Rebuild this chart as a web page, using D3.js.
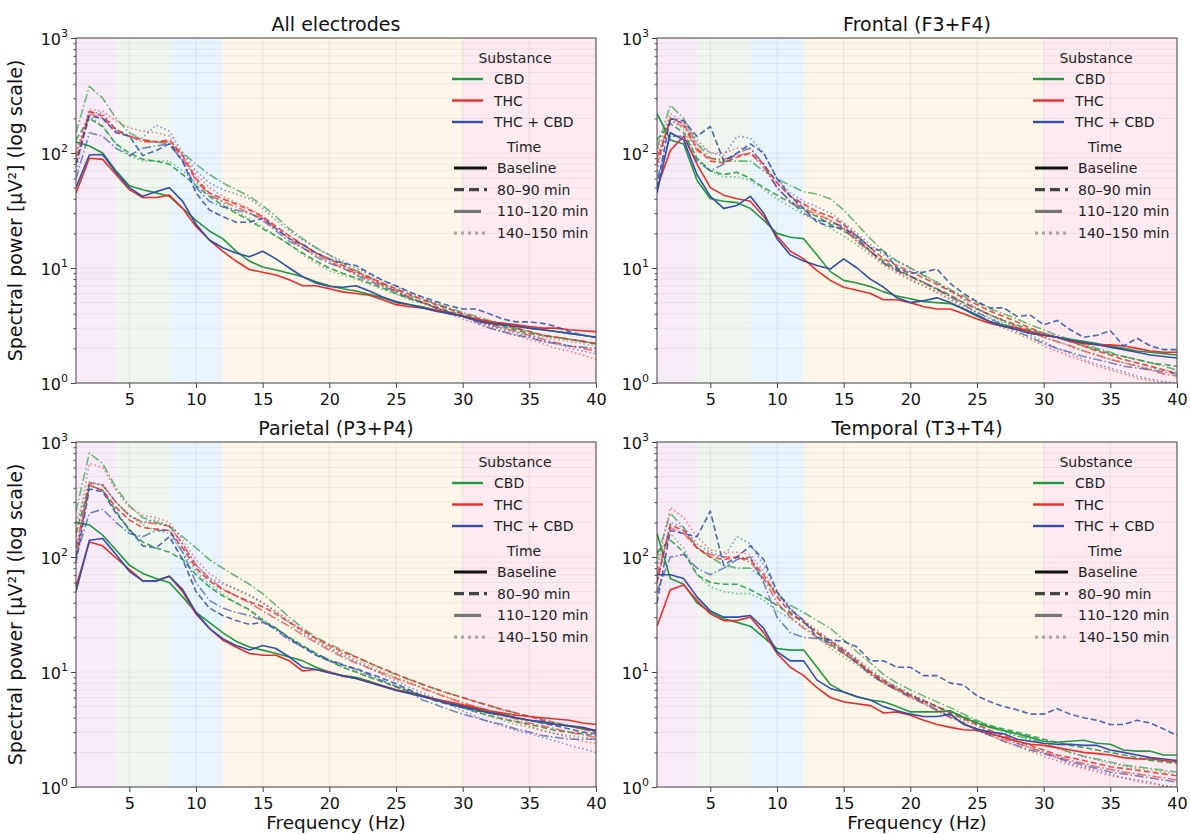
<!DOCTYPE html>
<html>
<head>
<meta charset="utf-8">
<script src="https://cdn.jsdelivr.net/npm/d3@7"></script>
<style>
  body { margin: 0; background: #fff; }
  svg { font-family: "DejaVu Sans", sans-serif; }
</style>
</head>
<body>
<div id="chart"></div>
<script>
// Frequencies (Hz) and category labels
const freqs = d3.range(1, 41);
const substances = ["CBD", "THC", "THC + CBD"];
const times = ["Baseline", "80–90 min", "110–120 min", "140–150 min"];
const xTicks = [5, 10, 15, 20, 25, 30, 35, 40];
const bandEdges = [[1, 4], [4, 8], [8, 12], [12, 30], [30, 40]];

// Each array: [Baseline, 80–90, 110–120, 140–150], values per Hz 1..40 (µV²)
const ALL_CBD = [
  [125,115,100,70,52,48,45,42,33,26,21,18,14,11.5,10.2,9.6,9,8.4,7.6,7,6.6,6.3,5.9,5.5,5.0,4.8,4.6,4.3,4.0,3.8,3.6,3.4,3.3,3.2,3.0,2.9,2.8,2.7,2.6,2.5],
  [130,200,170,120,100,88,85,80,65,52,42,35,30,26,22,19,16,13.5,11.5,10,9,8.2,7.4,6.7,6.0,5.4,5.0,4.6,4.2,3.9,3.6,3.3,3.1,2.9,2.7,2.6,2.5,2.4,2.3,2.2],
  [150,380,300,200,150,130,125,120,100,80,65,55,48,42,35,28,22,18,15,13,11,9.5,8.3,7.3,6.5,5.8,5.3,4.9,4.5,4.1,3.8,3.5,3.2,3.0,2.8,2.6,2.5,2.4,2.3,2.2],
  [100,210,170,120,95,85,85,85,70,55,45,37,31,27,23,19,16,13,11,9.5,8.7,8,7.2,6.5,5.9,5.3,4.9,4.5,4.1,3.8,3.5,3.2,3.0,2.8,2.6,2.5,2.4,2.3,2.2,2.1]
];
const ALL_THC = [
  [45,90,88,65,48,41,41,43,33,23,17.5,14,11.5,9.7,9.2,8.7,7.9,7.0,7.0,6.6,6.2,6.0,5.8,5.3,4.8,4.6,4.5,4.3,4.1,3.8,3.6,3.4,3.3,3.2,3.1,3.0,3.0,2.9,2.85,2.8],
  [80,230,210,160,140,130,125,130,95,60,45,40,36,32,28,23,19,16,13.5,12,10.5,9.3,8.3,7.4,6.6,5.9,5.3,4.8,4.4,4.0,3.7,3.4,3.2,3.0,2.8,2.6,2.5,2.4,2.3,2.2],
  [90,220,200,155,140,125,125,125,90,58,43,38,34,30,27,22,18,15,13,11.5,10,9,8,7.1,6.3,5.6,5.0,4.5,4.1,3.8,3.5,3.2,3.0,2.8,2.6,2.4,2.25,2.1,2.0,1.9],
  [100,240,230,190,165,155,150,140,95,65,50,42,37,33,28,23,19,16,13.5,12,10.5,9.2,8.1,7.1,6.3,5.6,5.0,4.5,4.0,3.6,3.3,3.0,2.8,2.6,2.4,2.2,2.0,1.9,1.75,1.6]
];
const ALL_COMBO = [
  [50,96,97,68,50,42,46,50,38,24,17.5,15,13.5,12.5,14,12,10,8.4,7.4,6.9,6.8,7.0,6.3,5.6,5.1,4.8,4.5,4.2,4.0,3.8,3.5,3.3,3.2,3.1,3.0,2.9,2.8,2.7,2.6,2.5],
  [80,210,200,150,140,95,105,120,85,45,32,28,25,25,27,22,18,16,13.5,12,11,10.5,9,7.8,7,6.2,5.6,5.1,4.7,4.4,4.4,4.0,3.6,3.4,3.4,3.3,3.1,2.8,2.6,2.5],
  [60,150,140,110,95,110,115,120,85,50,38,34,32,30,26,21,17,15,12.5,11,10,8.7,7.7,6.9,6.2,5.5,5.0,4.5,4.1,3.8,3.4,3.0,2.8,2.6,2.5,2.3,2.2,2.1,2.05,2.0],
  [70,230,220,160,140,135,175,155,100,70,55,48,44,40,33,26,21,17.5,15,13,11.5,10,8.8,7.8,6.9,6.1,5.5,4.9,4.4,3.9,3.5,3.1,2.9,2.7,2.5,2.3,2.2,2.0,1.9,1.8]
];

const FR_CBD = [
  [220,130,120,58,40,38,37,33,26,20,18.5,18,13,9.3,7.8,7.4,6.9,6.2,5.7,5.4,5.1,5.0,4.9,4.4,3.8,3.4,3.2,3.0,2.8,2.6,2.5,2.4,2.3,2.2,2.1,2.0,1.9,1.85,1.8,1.75],
  [130,180,150,90,70,65,68,60,50,43,37,32,28,24,21,18,14,11.5,9.8,8.5,7.5,6.6,5.8,5.0,4.4,3.9,3.5,3.2,2.9,2.7,2.5,2.3,2.1,1.95,1.8,1.7,1.6,1.5,1.45,1.4],
  [110,260,200,120,90,85,85,85,70,60,52,46,44,40,32,24,18,14,11.5,10,8.6,7.5,6.5,5.7,5.0,4.4,4.0,3.6,3.2,2.9,2.6,2.4,2.2,2.0,1.85,1.7,1.6,1.5,1.4,1.3],
  [90,200,160,90,70,62,62,58,48,40,34,29,26,22,19,16,13,10.5,9,7.8,7,6.2,5.4,4.7,4.1,3.7,3.3,3.0,2.7,2.5,2.3,2.1,1.9,1.75,1.6,1.5,1.42,1.35,1.3,1.25]
];
const FR_THC = [
  [50,105,140,80,50,43,40,38,28,19,14,12,9.5,7.8,6.8,6.4,6.0,5.3,5.3,5.0,4.6,4.4,4.4,4.0,3.6,3.3,3.1,3.0,2.8,2.6,2.5,2.3,2.2,2.15,2.15,2.1,2.0,1.9,1.85,1.85],
  [80,200,180,110,85,82,92,100,80,55,42,36,31,28,24,19,15,12,10.5,9.3,8.2,7.2,6.3,5.5,4.8,4.2,3.8,3.4,3.0,2.7,2.5,2.3,2.1,1.9,1.75,1.6,1.5,1.4,1.3,1.2],
  [90,190,170,105,90,88,95,100,75,50,38,33,29,26,22,17,14,11,9.5,8.4,7.4,6.5,5.7,5.0,4.4,3.9,3.5,3.1,2.8,2.5,2.3,2.1,1.9,1.75,1.6,1.5,1.4,1.3,1.2,1.15],
  [100,220,190,130,100,100,110,110,80,55,42,35,30,26,22,17,13.5,11,9.3,8,7,6.1,5.3,4.5,3.9,3.4,3.0,2.7,2.4,2.1,1.9,1.7,1.55,1.4,1.3,1.2,1.1,1.05,1.0,0.98]
];
const FR_COMBO = [
  [45,150,130,65,42,33,35,42,30,18,13,11.5,10.5,9.8,12,10,8,6.8,5.5,5.0,5.2,5.5,5.0,4.4,3.9,3.4,3.1,2.9,2.7,2.6,2.5,2.35,2.25,2.15,2.05,1.95,1.85,1.75,1.7,1.65],
  [50,200,190,140,170,85,100,120,100,60,42,33,25,23,22,19,15,14,10,9,9.2,9.8,7.3,6,5.1,4.5,4.5,3.8,3.9,3.2,3.5,2.9,2.5,2.6,2.85,2.1,2.45,2.1,1.95,1.95],
  [60,140,140,85,70,80,100,110,80,50,38,30,26,25,23,18,14,11,9.5,8.5,7.5,6.5,5.6,4.8,4.1,3.6,3.2,2.8,2.5,2.2,2.0,1.85,1.7,1.6,1.5,1.4,1.35,1.3,1.25,1.2],
  [70,200,180,120,100,95,140,135,100,60,45,38,34,30,25,20,16,13,11.5,10,8.8,7.5,6.3,5.3,4.5,3.9,3.4,3.0,2.6,2.3,2.0,1.8,1.6,1.45,1.35,1.25,1.15,1.08,1.03,1.0]
];

const PA_CBD = [
  [200,190,155,115,85,72,65,60,45,33,27,22,18.5,16.5,15.5,14.5,13.5,12.5,11,10,9.3,9,8.3,7.6,7,6.6,6.2,5.8,5.4,5.1,4.8,4.5,4.3,4.0,3.8,3.6,3.5,3.4,3.2,3.1],
  [160,420,380,250,170,135,120,110,95,70,55,46,40,35,28,24,20,17,14.5,12.5,11,10,9,8.2,7.4,6.8,6.2,5.7,5.3,4.9,4.5,4.2,3.9,3.7,3.5,3.3,3.1,3.0,2.9,2.8],
  [250,800,650,400,280,220,200,185,150,120,95,80,68,58,48,38,30,24,20,17.5,15.5,13.5,12,10.6,9.5,8.6,7.8,7.1,6.5,6.0,5.5,5.1,4.7,4.4,4.1,3.9,3.6,3.4,3.2,3.0],
  [200,450,420,300,230,190,170,160,110,75,58,48,40,34,29,24,20,16.5,14,12.5,11,10,9.1,8.3,7.6,6.9,6.3,5.8,5.3,4.9,4.5,4.1,3.8,3.5,3.3,3.1,2.9,2.8,2.7,2.6]
];
const PA_THC = [
  [55,135,125,98,78,62,62,68,50,32,24,19,16.5,14.5,14,14,12.5,10.2,10.5,10,9.2,8.8,8.2,7.6,7,6.6,6.2,5.8,5.5,5.2,4.9,4.6,4.4,4.2,4.1,4.0,3.9,3.8,3.6,3.5],
  [100,420,380,270,210,180,175,170,120,80,62,52,46,41,37,32,27,23,19.5,17,15,13.5,12,10.7,9.6,8.6,7.8,7.1,6.5,6,5.5,5.1,4.7,4.4,4.1,3.8,3.6,3.4,3.2,3.0],
  [120,440,420,300,230,200,195,185,130,85,65,53,46,40,34,29,25,21,18,15.5,13.5,12,10.8,9.7,8.8,8.0,7.2,6.5,5.9,5.4,5.0,4.6,4.2,3.9,3.6,3.4,3.2,3.0,2.85,2.7],
  [150,650,600,380,270,230,220,200,140,95,72,60,52,46,40,34,28,23,19.5,16.5,14.5,12.8,11.3,10,9,8.1,7.3,6.6,6.0,5.4,4.9,4.4,4.0,3.7,3.4,3.1,2.9,2.7,2.5,2.4]
];
const PA_COMBO = [
  [50,140,145,105,75,62,62,68,52,33,24,19.5,17,15.5,17,16,13.5,11,10.5,9.8,9.3,8.8,8.1,7.5,6.9,6.5,6.1,5.7,5.3,5.0,4.7,4.4,4.2,4.0,3.8,3.7,3.5,3.4,3.3,3.1],
  [90,390,370,240,175,125,120,150,95,50,36,31,28,26,27,24,19.5,16.5,14,12.5,11.5,10.7,9.7,8.8,7.9,7.0,6.2,5.6,5.2,4.9,4.6,4.4,4.2,4.0,3.8,3.6,3.4,3.2,3.0,2.9],
  [100,240,260,200,160,150,170,170,110,60,42,36,33,31,28,23,19,16.5,14.5,12.8,11.6,10.5,9.4,8.4,7.5,6.7,5.7,5.2,4.7,4.3,4.0,3.7,3.5,3.2,3.0,2.8,2.7,2.6,2.6,2.6],
  [110,440,430,300,230,200,210,185,130,85,66,58,53,47,40,33,27,22,18.5,16,14,12.3,10.8,9.5,8.4,7.4,6.6,5.9,5.2,4.6,4.1,3.7,3.4,3.1,2.9,2.7,2.5,2.3,2.15,2.0]
];

const TE_CBD = [
  [160,65,58,40,33,29,27,25,20,16,15.5,15.5,11,7.8,6.7,6.1,5.7,5.5,5.0,4.5,4.5,4.5,4.6,4.0,3.6,3.3,3.1,2.9,2.7,2.5,2.45,2.5,2.55,2.4,2.35,2.1,2.05,2.05,1.9,1.9],
  [110,140,110,70,60,58,58,52,45,38,32,27,22,17.5,14.5,12,10,8.5,7.2,6.3,5.6,5.0,4.5,4.1,3.7,3.4,3.2,3.0,2.8,2.6,2.45,2.3,2.2,2.1,2.0,1.9,1.8,1.7,1.65,1.6],
  [100,240,180,120,100,85,80,80,65,48,38,33,28,24,19,15,12,9.5,8,7,6.2,5.5,4.9,4.3,3.8,3.4,3.1,2.8,2.6,2.4,2.2,2.0,1.85,1.75,1.65,1.55,1.5,1.45,1.4,1.35],
  [90,160,120,70,55,50,48,48,42,34,29,25,20,16,13.5,11.5,9.5,8,7,6.2,5.6,5.0,4.5,4.0,3.6,3.3,3.0,2.75,2.55,2.35,2.15,2.0,1.85,1.72,1.6,1.52,1.45,1.4,1.35,1.3]
];
const TE_THC = [
  [25,52,57,42,32,28,28,30,22,14.5,11,9.3,7.3,6.0,5.5,5.3,5.1,4.4,4.5,4.2,3.8,3.5,3.3,3.15,3.1,2.9,2.7,2.5,2.35,2.3,2.2,2.1,2.0,1.95,1.9,1.8,1.75,1.75,1.7,1.65],
  [60,190,170,120,100,95,100,95,70,45,33,27,22,18.5,15.5,12.5,10,8.3,7.2,6.3,5.6,5.0,4.4,3.9,3.5,3.1,2.8,2.5,2.3,2.1,1.9,1.8,1.7,1.6,1.5,1.45,1.4,1.35,1.3,1.25],
  [70,180,160,120,105,100,100,90,65,40,30,24,20,17,14.5,12,9.8,8,6.9,6.0,5.3,4.6,4.0,3.6,3.2,2.9,2.6,2.4,2.2,2.0,1.85,1.7,1.6,1.5,1.42,1.35,1.3,1.25,1.2,1.15],
  [80,270,220,150,115,110,110,105,75,48,35,28,22,18.5,15.5,12.5,10,8.3,7.2,6.2,5.4,4.7,4.1,3.6,3.2,2.8,2.5,2.25,2.05,1.85,1.7,1.55,1.45,1.35,1.25,1.2,1.12,1.07,1.02,0.98]
];
const TE_COMBO = [
  [70,70,65,45,34,30,30,31,24,15,12.5,12.5,8.5,7.2,6.7,6.1,5.7,5.0,4.6,4.3,4.1,4.1,4.3,3.5,3.2,3.0,2.9,2.6,2.5,2.4,2.35,2.35,2.3,2.3,2.1,2.0,1.9,1.8,1.75,1.7],
  [40,170,160,150,250,85,100,125,95,50,35,28,20,19,18.5,16.5,12.5,12.5,11,11,9.3,9.3,8.0,7.7,6.2,5.5,5.0,4.7,4.3,4.3,4.8,4.3,4.0,3.8,3.5,3.5,3.8,3.6,3.2,2.8],
  [50,100,105,80,70,80,95,100,60,30,22,20,19.5,18,15,12,9.5,8,7,6.1,5.4,4.7,4.1,3.6,3.1,2.8,2.5,2.3,2.1,1.95,1.8,1.65,1.55,1.45,1.35,1.3,1.25,1.2,1.15,1.1],
  [60,200,180,130,110,100,150,130,85,50,36,28,23,19,16,13,10.5,8.7,7.5,6.5,5.7,5.0,4.3,3.8,3.4,3.0,2.7,2.4,2.2,2.0,1.8,1.6,1.5,1.4,1.3,1.2,1.15,1.1,1.03,1.0]
];

const panels = [
  { title: "All electrodes",   data: [ALL_CBD, ALL_THC, ALL_COMBO], l: 76,  t: 38,  ylab: true,  xlab: false },
  { title: "Frontal (F3+F4)",  data: [FR_CBD, FR_THC, FR_COMBO],    l: 657, t: 38,  ylab: false, xlab: false },
  { title: "Parietal (P3+P4)", data: [PA_CBD, PA_THC, PA_COMBO],    l: 76,  t: 442, ylab: true,  xlab: true },
  { title: "Temporal (T3+T4)", data: [TE_CBD, TE_THC, TE_COMBO],    l: 657, t: 442, ylab: false, xlab: true }
];

// Styles
const subColors = ["#1f9a3f", "#ee2b2b", "#2f4fa8"];
const bandColors = ["#f6ebf6", "#eef6ee", "#eaf4fc", "#fdf6e9", "#fdebf1"];
const timeStyles = [
  { dash: null,             opacity: 1 },
  { dash: "6,3",            opacity: 0.85 },
  { dash: "9,2.5,1.6,2.5",  opacity: 0.65 },
  { dash: "1.6,2.6",        opacity: 0.55 }
];
const legendTime = [
  { color: "#111", dash: null,  w: 3.2, len: 33 },
  { color: "#444", dash: "10,5", w: 3.2, len: 33 },
  { color: "#777", dash: null,  w: 3.2, len: 27 },
  { color: "#aaa", dash: "3,4", w: 3.2, len: 33 }
];

const W = 1190, H = 834, pw = 520, ph = 345;
const axisColor = "#444";

const svg = d3.select("#chart").append("svg")
  .attr("width", W).attr("height", H);

const x = d3.scaleLinear().domain([1, 40]).range([0, pw]);
const y = d3.scaleLog().domain([1, 1000]).range([ph, 0]);

const majorY = [1, 10, 100, 1000];
const minorY = [];
[1, 10, 100].forEach(d => { for (let k = 2; k < 10; k++) minorY.push(d * k); });

const line = d3.line().x((d, i) => x(freqs[i])).y(d => y(d));

panels.forEach((p, pi) => {
  const g = svg.append("g").attr("transform", `translate(${p.l},${p.t})`);

  // Frequency bands
  g.selectAll(".band").data(bandEdges).enter().append("rect")
    .attr("x", d => x(d[0])).attr("width", d => x(d[1]) - x(d[0]))
    .attr("y", 0).attr("height", ph)
    .attr("fill", (d, i) => bandColors[i]);

  // Grid
  g.selectAll(".hgrid").data(minorY.concat(majorY)).enter().append("line")
    .attr("x1", 0).attr("x2", pw)
    .attr("y1", d => y(d)).attr("y2", d => y(d))
    .attr("stroke", "#000").attr("stroke-opacity", 0.07).attr("stroke-width", 0.8);
  g.selectAll(".vgrid").data(xTicks).enter().append("line")
    .attr("x1", d => x(d)).attr("x2", d => x(d))
    .attr("y1", 0).attr("y2", ph)
    .attr("stroke", "#000").attr("stroke-opacity", 0.09).attr("stroke-width", 0.8);

  // Series
  const clipId = "clip" + pi;
  g.append("clipPath").attr("id", clipId).append("rect")
    .attr("width", pw).attr("height", ph);
  const lines = g.append("g").attr("clip-path", `url(#${clipId})`);
  p.data.forEach((sub, si) => {
    sub.forEach((vals, ti) => {
      lines.append("path")
        .attr("d", line(vals))
        .attr("fill", "none")
        .attr("stroke", subColors[si])
        .attr("stroke-width", 1.6)
        .attr("stroke-opacity", timeStyles[ti].opacity)
        .attr("stroke-dasharray", timeStyles[ti].dash)
        .attr("stroke-linejoin", "round");
    });
  });

  // X axis
  const xa = g.append("g").attr("transform", `translate(0,${ph})`)
    .call(d3.axisBottom(x).tickValues(xTicks).tickSize(5).tickPadding(5.5).tickSizeOuter(0));
  xa.select(".domain").remove();
  xa.selectAll("line").attr("stroke", axisColor);
  xa.selectAll("text").attr("font-size", 16).attr("fill", "#111")
    .attr("font-family", "DejaVu Sans");

  // Y axis (major + minor)
  const ya = g.append("g")
    .call(d3.axisLeft(y).tickValues(majorY).tickSize(5).tickFormat(() => "").tickSizeOuter(0));
  ya.select(".domain").remove();
  ya.selectAll("line").attr("stroke", axisColor);
  const ym = g.append("g")
    .call(d3.axisLeft(y).tickValues(minorY).tickSize(2.5).tickFormat(() => "").tickSizeOuter(0));
  ym.select(".domain").remove();
  ym.selectAll("line").attr("stroke", axisColor);

  majorY.forEach(v => {
    const t = g.append("text")
      .attr("x", -8).attr("y", y(v) + 7)
      .attr("text-anchor", "end").attr("font-size", 16).attr("fill", "#111");
    t.append("tspan").text("10");
    t.append("tspan").attr("font-size", 11).attr("dy", -8).text(Math.round(Math.log10(v)));
  });

  // Frame
  g.append("rect").attr("width", pw).attr("height", ph)
    .attr("fill", "none").attr("stroke", axisColor).attr("stroke-width", 1);

  // Title and labels
  g.append("text").attr("x", pw / 2).attr("y", -7)
    .attr("text-anchor", "middle").attr("font-size", 19).attr("fill", "#111")
    .text(p.title);
  if (p.ylab) {
    g.append("text")
      .attr("transform", `translate(-54,${ph / 2}) rotate(-90)`)
      .attr("text-anchor", "middle").attr("font-size", 19).attr("fill", "#111")
      .text("Spectral power [µV²] (log scale)");
  }
  if (p.xlab) {
    g.append("text").attr("x", pw / 2).attr("y", ph + 42)
      .attr("text-anchor", "middle").attr("font-size", 18.5).attr("fill", "#111")
      .text("Frequency (Hz)");
  }

  // Legend
  const lg = g.append("g").attr("transform", `translate(${pw},0)`);
  lg.append("text").attr("x", -81).attr("y", 25).attr("text-anchor", "middle")
    .attr("font-size", 14).attr("fill", "#222").text("Substance");
  substances.forEach((s, i) => {
    const yy = 41 + i * 21.5;
    lg.append("line").attr("x1", -144).attr("x2", -113).attr("y1", yy).attr("y2", yy)
      .attr("stroke", subColors[i]).attr("stroke-width", 2.4);
    lg.append("text").attr("x", -102).attr("y", yy + 5)
      .attr("font-size", 14).attr("fill", "#222").text(s);
  });
  lg.append("text").attr("x", -72).attr("y", 114).attr("text-anchor", "middle")
    .attr("font-size", 14).attr("fill", "#222").text("Time");
  times.forEach((tm, i) => {
    const yy = 130 + i * 21.7;
    const st = legendTime[i];
    lg.append("line").attr("x1", -142).attr("x2", -142 + st.len).attr("y1", yy).attr("y2", yy)
      .attr("stroke", st.color).attr("stroke-width", st.w)
      .attr("stroke-dasharray", st.dash);
    lg.append("text").attr("x", -99).attr("y", yy + 5)
      .attr("font-size", 14).attr("fill", "#222").text(tm);
  });
});
</script>
</body>
</html>
